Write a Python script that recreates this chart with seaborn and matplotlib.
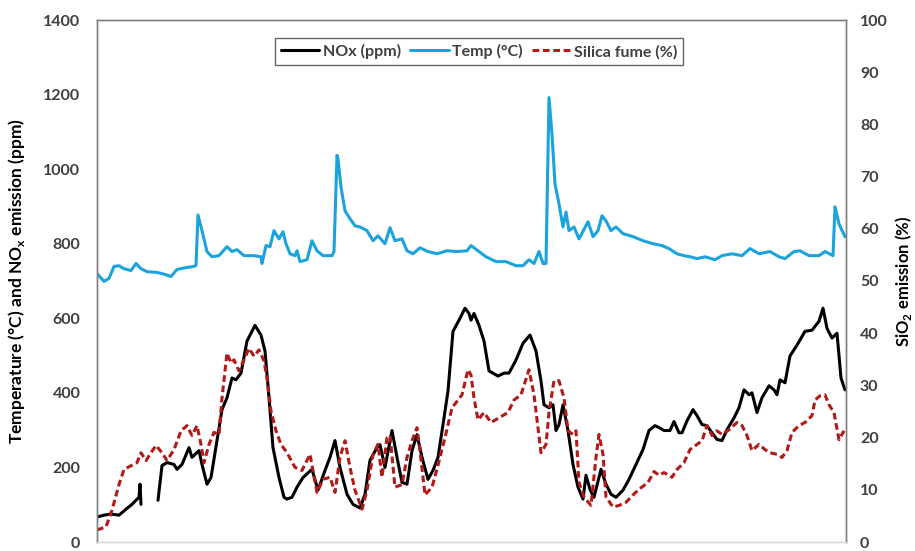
import numpy as np
import pandas as pd
import matplotlib
matplotlib.use("Agg")
import matplotlib.pyplot as plt
import seaborn as sns

# time index (the original has no labelled x axis)
temp_t = [0, 7, 12, 17, 22, 27, 34, 39, 44, 50,
          60, 69, 74, 80, 89, 97, 99, 101, 105, 110,
          115, 122, 130, 135, 140, 147, 157, 164, 165, 169,
          173, 177, 182, 186, 189, 193, 198, 200, 203, 210,
          215, 220, 226, 235, 237, 240, 241, 244, 248, 253,
          258, 263, 270, 276, 281, 288, 293, 298, 305, 310,
          316, 323, 331, 340, 350, 360, 370, 374, 382, 389,
          399, 409, 419, 426, 432, 437, 442, 446, 449, 452,
          455, 458, 462, 466, 469, 472, 477, 482, 491, 496,
          501, 505, 509, 514, 519, 526, 536, 546, 556, 565,
          572, 580, 587, 593, 600, 608, 618, 625, 635, 645,
          653, 662, 673, 682, 688, 697, 703, 712, 722, 728,
          736, 738, 742, 748]
temp_c = [720, 699, 707, 739, 741, 733, 728, 747, 733, 725,
          723, 717, 712, 731, 736, 739, 742, 877, 835, 779,
          765, 768, 792, 779, 784, 768, 768, 765, 747, 795,
          792, 835, 813, 832, 800, 773, 768, 781, 752, 757,
          808, 781, 768, 768, 779, 1037, 1027, 952, 888, 867,
          848, 845, 835, 808, 821, 800, 843, 808, 813, 781,
          773, 789, 779, 773, 781, 779, 781, 795, 779, 765,
          752, 752, 741, 741, 757, 747, 779, 747, 747, 1192,
          1093, 960, 907, 845, 885, 835, 845, 813, 859, 819,
          835, 875, 861, 835, 845, 827, 819, 808, 800, 795,
          787, 773, 768, 765, 760, 765, 757, 768, 773, 768,
          787, 773, 779, 765, 760, 779, 781, 768, 768, 779,
          768, 899, 853, 819]

# NOx record has a short gap near the start
nox_t1 = [0, 7, 14, 22, 29, 35, 42, 43, 44]
nox_ppm1 = [67, 72, 75, 72, 88, 101, 120, 155, 101]
nox_t2 = [61, 65, 70, 77, 80, 85, 92, 95, 102, 105,
          110, 114, 120, 125, 130, 135, 139, 144, 150, 158,
          164, 168, 172, 176, 182, 187, 190, 195, 200, 206,
          215, 221, 228, 233, 238, 243, 250, 256, 263, 268,
          273, 280, 283, 288, 295, 300, 305, 310, 315, 320,
          325, 331, 336, 341, 346, 351, 356, 363, 368, 372,
          374, 377, 382, 387, 392, 401, 407, 412, 419, 426,
          433, 439, 444, 447, 452, 456, 459, 462, 466, 471,
          476, 481, 486, 489, 493, 497, 504, 509, 514, 519,
          526, 532, 539, 546, 552, 558, 562, 567, 573, 577,
          582, 585, 590, 596, 600, 605, 610, 615, 620, 625,
          630, 637, 642, 647, 652, 655, 660, 665, 672, 677,
          680, 683, 688, 693, 700, 708, 715, 722, 726, 730,
          735, 740, 744, 748]
nox_ppm2 = [112, 205, 213, 208, 195, 208, 253, 227, 245, 208,
            155, 173, 272, 355, 387, 440, 435, 453, 539, 581,
            555, 512, 387, 253, 173, 120, 115, 120, 147, 173,
            195, 139, 192, 227, 272, 200, 128, 101, 91, 128,
            219, 253, 261, 200, 299, 227, 160, 155, 245, 288,
            227, 168, 192, 227, 315, 405, 565, 600, 627, 613,
            595, 613, 581, 539, 459, 445, 453, 453, 488, 533,
            555, 512, 432, 368, 360, 368, 299, 315, 368, 299,
            208, 147, 115, 179, 141, 120, 195, 155, 128, 120,
            139, 168, 208, 248, 299, 312, 307, 299, 299, 323,
            293, 293, 325, 355, 339, 315, 312, 293, 275, 272,
            301, 333, 360, 408, 395, 400, 347, 387, 419, 408,
            395, 435, 427, 499, 528, 565, 568, 592, 627, 573,
            547, 560, 440, 408]

silica_t = [0, 9, 15, 22, 27, 35, 40, 44, 49, 54,
            59, 65, 70, 77, 84, 90, 95, 100, 104, 107,
            112, 117, 122, 125, 130, 134, 137, 142, 147, 152,
            157, 162, 167, 170, 174, 179, 184, 190, 198, 205,
            213, 216, 220, 226, 233, 238, 243, 248, 253, 258,
            265, 270, 276, 281, 285, 290, 293, 298, 305, 310,
            315, 320, 323, 328, 335, 341, 348, 355, 361, 365,
            371, 374, 377, 381, 387, 394, 402, 411, 417, 424,
            432, 437, 441, 444, 449, 452, 457, 462, 467, 471,
            476, 479, 482, 487, 494, 499, 502, 506, 509, 516,
            522, 529, 536, 542, 551, 557, 562, 567, 575, 580,
            587, 593, 600, 605, 610, 615, 620, 625, 632, 640,
            645, 650, 655, 662, 668, 673, 680, 685, 690, 695,
            702, 708, 715, 718, 723, 728, 732, 737, 742, 747]
silica_pct = [2.3, 2.9, 6.1, 11, 13.9, 14.7, 15.2, 17.1, 15.6, 17.1,
              18.5, 17.1, 15.6, 17.7, 21.3, 22.3, 20.4, 22.3, 18.7, 15.2,
              18.7, 21, 20.6, 27.6, 36.2, 34.3, 34.9, 32.8, 34.9, 37.1,
              35.6, 36.8, 34.7, 31.4, 25.1, 21.3, 18.7, 17.1, 14.3, 13.7,
              16.8, 13.7, 9.5, 12, 12.4, 9.5, 16.2, 19.4, 14.3, 9.9,
              6.3, 9.9, 16.8, 18.7, 12.4, 20, 20.4, 10.5, 11, 16.2,
              19.4, 21.9, 17.5, 9, 10.5, 14.7, 20, 25.7, 27.2, 28.2,
              33, 32, 27.6, 23.4, 24.8, 22.9, 23.8, 24.8, 27.2, 28.2,
              33, 28.2, 21.9, 17.1, 18.7, 24.8, 30.9, 30.9, 27.6, 21.3,
              20.6, 21.3, 11.4, 8.6, 7, 16.2, 20.6, 16.8, 8.6, 6.7,
              7, 7.6, 9, 10.1, 11.4, 13.5, 12.8, 13.3, 12.4, 13.9,
              15.2, 17.7, 18.7, 19.4, 22.3, 20.4, 21.3, 20.6, 21.5, 22.9,
              22.3, 20.4, 17.5, 18.7, 17.7, 17.1, 16.8, 16.2, 17.5, 21,
              22.3, 22.9, 24.2, 27.2, 28, 28.2, 26.3, 24.8, 19.6, 21.3]

left_ticks = [0, 200, 400, 600, 800, 1000, 1200, 1400]
right_ticks = [0, 10, 20, 30, 40, 50, 60, 70, 80, 90, 100]

nox_color = "black"
temp_color = "#1AA3DD"
silica_color = "#B21A1A"
txt = "#404040"

sns.set_style("white")
plt.rcParams["font.family"] = ["Lato", "DejaVu Sans"]
plt.rcParams["font.weight"] = "bold"

fig = plt.figure(figsize=(9.15, 5.51), dpi=100)
ax = fig.add_axes([97 / 915, 1 - 542 / 551, 749 / 915, 522 / 551])
ax2 = ax.twinx()

sns.lineplot(x=nox_t1, y=nox_ppm1, ax=ax, color=nox_color, lw=2.2, label="NOx (ppm)")
sns.lineplot(x=nox_t2, y=nox_ppm2, ax=ax, color=nox_color, lw=2.2)
sns.lineplot(x=temp_t, y=temp_c, ax=ax, color=temp_color, lw=2.2, label="Temp (°C)")
sns.lineplot(x=silica_t, y=silica_pct, ax=ax2, color=silica_color, lw=2.2, ls=(0, (2.2, 1.2)),
             label="Silica fume (%)")

ax.set_xlim(0, 749)
ax.set_ylim(0, 1400)
ax2.set_ylim(0, 100)
ax.set_xticks([])
ax.set_yticks(left_ticks)
ax2.set_yticks(right_ticks)
ax.tick_params(axis="y", length=0, pad=12, labelsize=11.5, labelcolor=txt)
ax2.tick_params(axis="y", length=0, pad=10, labelsize=11.5, labelcolor=txt)
for t in ax.get_yticklabels() + ax2.get_yticklabels():
    t.set_fontweight("bold")

ax.set_ylabel("Temperature (°C) and NO$_\\mathregular{x}$ emission (ppm)", fontsize=12.5,
              fontweight="bold", color="black", labelpad=12)
ax2.set_ylabel("SiO$_\\mathregular{2}$ emission (%)", fontsize=12, fontweight="bold",
               color="black", labelpad=4)

for a in (ax, ax2):
    for s in a.spines.values():
        s.set_color("#7f7f7f")
        s.set_linewidth(1.0)
    a.spines["bottom"].set_color("#d9d9d9")

h1, l1 = ax.get_legend_handles_labels()
h2, l2 = ax2.get_legend_handles_labels()
if ax2.get_legend():
    ax2.get_legend().remove()
leg = ax.legend(h1 + h2, l1 + l2, loc="upper center", bbox_to_anchor=(0.51, 0.98), ncol=3,
                frameon=True, fancybox=False, handlelength=2.4, handletextpad=0.2, columnspacing=0.6,
                borderpad=0.35, prop={"size": 11.5, "weight": "bold"})
leg.get_frame().set_edgecolor("#404040")
leg.get_frame().set_linewidth(1.0)
for t in leg.get_texts():
    t.set_color(txt)

fig.savefig("out.png", dpi=100)
